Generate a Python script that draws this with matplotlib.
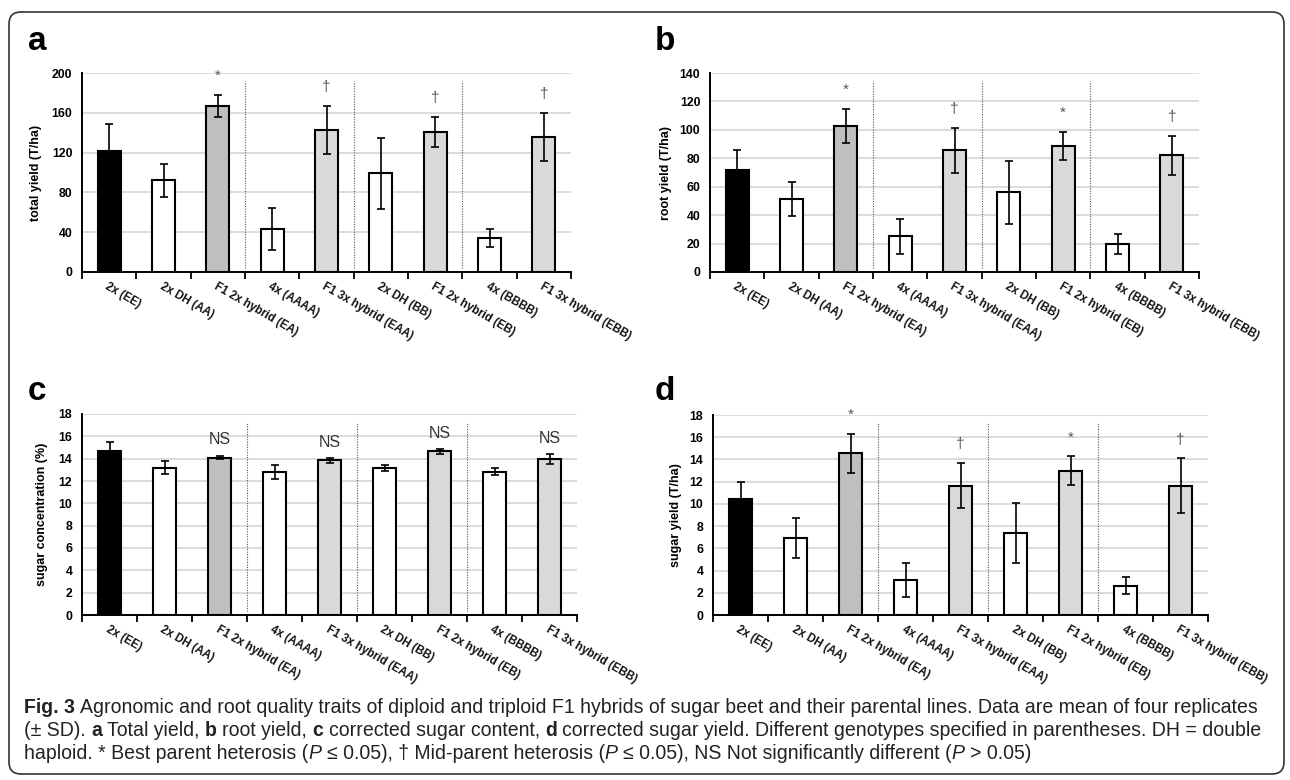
import numpy as np
import matplotlib
matplotlib.use("Agg")
import matplotlib.pyplot as plt
from matplotlib.patches import FancyBboxPatch
from matplotlib.transforms import IdentityTransform, ScaledTranslation

plt.rcParams["font.family"] = ["Liberation Sans", "DejaVu Sans"]

W, H = 1290, 780

genotypes = ["2x (EE)", "2x DH (AA)", "F1 2x hybrid (EA)", "4x (AAAA)",
             "F1 3x hybrid (EAA)", "2x DH (BB)", "F1 2x hybrid (EB)",
             "4x (BBBB)", "F1 3x hybrid (EBB)"]
bar_colors = ["black", "white", "#bfbfbf", "white", "#d9d9d9",
              "white", "#d9d9d9", "white", "#d9d9d9"]

total_yield = [122, 92, 167, 43, 143, 99, 141, 34, 136]
total_yield_sd = [27, 17, 11, 21, 24, 36, 15, 9, 24]
root_yield = [71.5, 51.5, 103, 25, 85.5, 56, 88.5, 20, 82]
root_yield_sd = [14, 12, 12, 12, 16, 22, 10, 7, 14]
sugar_conc = [14.7, 13.2, 14.1, 12.8, 13.85, 13.15, 14.65, 12.85, 13.95]
sugar_conc_sd = [0.8, 0.55, 0.15, 0.6, 0.2, 0.25, 0.2, 0.3, 0.45]
sugar_yield = [10.45, 6.9, 14.55, 3.15, 11.65, 7.35, 13.0, 2.65, 11.65]
sugar_yield_sd = [1.55, 1.8, 1.75, 1.5, 2.05, 2.7, 1.3, 0.8, 2.45]

marks_a = ["", "", "*", "", "†", "", "†", "", "†"]
marks_b = ["", "", "*", "", "†", "", "*", "", "†"]
marks_c = ["", "", "NS", "", "NS", "", "NS", "", "NS"]
marks_d = ["", "", "*", "", "†", "", "*", "", "†"]

# letter, means, sd, marks, ylabel, ymax, ystep, axes px (l, t, r, b), letter px, ylabel x px
panels = [
    ("a", total_yield, total_yield_sd, marks_a, "total yield (T/ha)", 200, 40,
     (82, 73, 571, 272), (28, 50), 36),
    ("b", root_yield, root_yield_sd, marks_b, "root yield (T/ha)", 140, 20,
     (710, 73, 1199, 272), (655, 50), 666),
    ("c", sugar_conc, sugar_conc_sd, marks_c, "sugar concentration (%)", 18, 2,
     (82, 414, 577, 615), (28, 400), 42),
    ("d", sugar_yield, sugar_yield_sd, marks_d, "sugar yield (T/ha)", 18, 2,
     (713, 415, 1208, 615), (655, 400), 676),
]

fig = plt.figure(figsize=(W / 100, H / 100), dpi=100)
x = np.arange(len(genotypes))

for letter, means, sd, marks, ylabel, ymax, ystep, (l, t, r, b), (lx, ly), ylx in panels:
    ax = fig.add_axes([l / W, 1 - b / H, (r - l) / W, (b - t) / H])
    ax.bar(x, means, width=0.42, color=bar_colors, edgecolor="black",
           linewidth=1.5, zorder=2)
    ax.errorbar(x, means, yerr=sd, fmt="none", ecolor="black",
                elinewidth=1.2, capsize=3, capthick=1.2, zorder=3)
    ax.vlines([2.5, 4.5, 6.5], 0.02, 0.96, transform=ax.get_xaxis_transform(),
              colors="#555555", linestyles=(0, (1, 1.3)), linewidth=0.8, zorder=1)

    for i, m in enumerate(marks):
        if not m:
            continue
        if m == "NS":
            ax.annotate(m, (i, means[i] + sd[i]), xytext=(0, 11.5),
                        textcoords="offset points", ha="center", va="center",
                        fontsize=11.5, color="#333333")
        else:
            ax.annotate(m, (i, means[i] + sd[i]), xytext=(0, 13.5),
                        textcoords="offset points", ha="center", va="center",
                        fontsize=11, color="#555555")

    ax.set_xlim(-0.5, 8.5)
    ax.set_ylim(0, ymax)
    ax.set_yticks(np.arange(0, ymax + 1, ystep))
    ax.set_xticks(x)
    ax.set_xticklabels(genotypes, rotation=-30, ha="left", va="top",
                       rotation_mode="anchor", fontsize=8.3, fontweight="bold",
                       color="#111111")
    offset = ScaledTranslation(-3 / 72, 0, fig.dpi_scale_trans)
    for lab in ax.get_xticklabels():
        lab.set_transform(lab.get_transform() + offset)
    ax.set_xticks(np.arange(-0.5, 9, 1), minor=True)
    ax.tick_params(axis="x", which="major", length=0, pad=6)
    ax.tick_params(axis="x", which="minor", length=5, width=1.3, color="black")
    ax.tick_params(axis="y", length=0, pad=7, labelsize=8.8)
    for lab in ax.get_yticklabels():
        lab.set_fontweight("bold")

    ax.yaxis.grid(True, color="#d9d9d9", linewidth=1.3)
    ax.set_axisbelow(True)
    for side in ("top", "right"):
        ax.spines[side].set_visible(False)
    for side in ("left", "bottom"):
        ax.spines[side].set_linewidth(1.4)
        ax.spines[side].set_color("black")

    ax.set_ylabel(ylabel, fontsize=9, fontweight="bold")
    ax.yaxis.label.set_va("center")
    ax.yaxis.set_label_coords((ylx - l) / (r - l), 0.5)

    fig.text(lx / W, 1 - ly / H, letter, fontsize=24, fontweight="bold",
             ha="left", va="baseline")

# caption: one text object per style run, placed side by side
caption = [
    [("Fig. 3", "bold"),
     (" Agronomic and root quality traits of diploid and triploid F1 hybrids of sugar "
      "beet and their parental lines. Data are mean of four replicates", "normal")],
    [("(± SD). ", "normal"), ("a", "bold"), (" Total yield, ", "normal"), ("b", "bold"),
     (" root yield, ", "normal"), ("c", "bold"), (" corrected sugar content, ", "normal"),
     ("d", "bold"), (" corrected sugar yield. Different genotypes specified in "
                     "parentheses. DH = double", "normal")],
    [("haploid. * Best parent heterosis (", "normal"), ("P", "italic"),
     (" ≤ 0.05), † Mid-parent heterosis (", "normal"), ("P", "italic"),
     (" ≤ 0.05), NS Not significantly different (", "normal"), ("P", "italic"),
     (" > 0.05)", "normal")],
]
cap_x0, cap_x1 = 24, 1264
cap_baselines = [713, 736, 759]
renderer = fig.canvas.get_renderer()


def make_piece(txt, style, size):
    kw = dict(fontsize=size, ha="left", va="baseline", color="#222222")
    if style == "bold":
        kw["fontweight"] = "bold"
    elif style == "italic":
        kw["fontstyle"] = "italic"
    return fig.text(0, 0, txt, **kw)


def width_of(txt, style, size):
    t = make_piece(txt, style, size)
    w = t.get_window_extent(renderer).width
    t.remove()
    return w


def line_width(line, size):
    space = width_of("a a", "normal", size) - width_of("aa", "normal", size)
    total = 0
    for txt, style in line:
        total += width_of(txt.strip(" "), style, size)
        total += space * (txt.startswith(" ") + txt.endswith(" "))
    return total


base = 12
widest = max(line_width(line, base) for line in caption[:2])
size = base * (cap_x1 - cap_x0) / widest
space = width_of("a a", "normal", size) - width_of("aa", "normal", size)

for line, yb in zip(caption, cap_baselines):
    xp = cap_x0
    for txt, style in line:
        core = txt.strip(" ")
        if txt.startswith(" "):
            xp += space
        t = make_piece(core, style, size)
        t.set_position((xp / W, 1 - yb / H))
        xp += t.get_window_extent(renderer).width
        if txt.endswith(" "):
            xp += space

border = FancyBboxPatch((9, H - 774), 1284 - 9, 774 - 12,
                        boxstyle="round,pad=0,rounding_size=12",
                        transform=IdentityTransform(), fill=False,
                        edgecolor="#333333", linewidth=1.2)
fig.add_artist(border)

fig.savefig("out.png", dpi=100)
